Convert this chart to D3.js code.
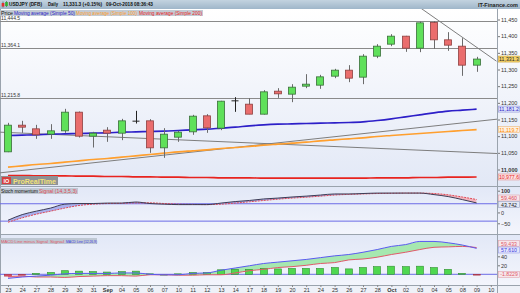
<!DOCTYPE html>
<html>
<head>
<meta charset="utf-8">
<script src="https://cdn.jsdelivr.net/npm/d3@7"></script>
<style>
  body { margin: 0; background: #fff; }
  svg { display: block; font-family: "Liberation Sans", Arial, sans-serif; }
</style>
</head>
<body>
<div id="root"></div>
<script>
// ---- data ----
const dayLabels = ["23","24","27","28","29","30","31","Sep","04","05","06","07","10","11","12","13","14","17",
  "18","19","20","21","24","25","26","27","28","Oct","02","03","04","05","08","09","10"];

const open  = [11053,11133,11122,11106,11116,11172,11100,11118,11109,11146,11146,11065,11097,11113,11161,11124,11206,
  11196,11166,11235,11226,11250,11253,11280,11298,11277,11340,11376,11400,11364,11441,11389,11370,11313];
const high  = [11140,11146,11134,11136,11182,11174,11113,11127,11152,11176,11151,11124,11116,11164,11166,11206,11217,
  11214,11238,11244,11256,11286,11284,11302,11313,11346,11376,11406,11401,11444,11444.5,11412,11394,11338];
const low   = [11052,11110,11092,11092,11110,11096,11066,11083,11088,11138,11050,11035,11083,11104,11110,11118,11173,
  11166,11165,11215,11202,11244,11242,11274,11262,11256,11334,11370,11353,11352,11362,11356,11281,11293];
const close = [11133,11127,11104,11116,11172,11100,11109,11109,11146,11145,11065,11106,11112,11160,11125,11205,11206,
  11166,11233,11227,11247,11256,11278,11298,11274,11340,11370,11400,11364,11440,11389,11373,11313,11331.3];

const ma50  = [11102,11103,11104,11106,11107,11108,11109,11110,11112,11113,11114,11115,11117,11119,11121,11124,11127,
  11131,11134,11136,11137,11138,11139,11140,11141,11143,11147,11152,11158,11164,11170,11175,11178,11181.2];
const ma100 = [11007,11011,11015,11018,11022,11026,11030,11033,11037,11041,11045,11049,11053,11056,11059,11063,11066,
  11069,11073,11076,11079,11082,11086,11089,11092,11095,11099,11102,11105,11108,11111,11114,11117,11119.7];
const ma200 = [10982,10982,10981,10981,10981,10980,10980,10979,10979,10978,10978,10977,10977,10976,10976,10975,10975,
  10975,10974,10974,10974,10974,10974,10974,10974,10974,10975,10975,10975,10976,10976,10977,10977,10977.6];

const levels = [11444.5, 11364.1, 11215.8];
const trendLines = [
  [[28, 11516], [34.4, 11325]],
  [[-0.56, 10990], [34.44, 11151]],
  [[-0.56, 11112], [34.44, 11048]]
];

const smi    = [-36,-10,6,20,38,41,41,43,43,48,41,38,36,36,36,43,50,55,62,66,71,75,80,85,85,87,89,89,89,89,82,73,59,43.742];
const smiSig = [-45,-25,-8,6,20,32,38,41,42,44,44,41,38,37,36,38,43,49,55,61,66,70,75,80,83,85,87,88,89,89,87,81,71,59.46];

const macd    = [-9,-6,-4,-2,1,2,2,2,3,3,0,-1,-1,2,3,9,14,19,24,27,30,33,37,41,44,49,55,62,66,73,73,70,65,57.61];
const macdSig = [-5,-4,-6,-6,-7,-5,-4,-3,-3,-4,-1,-1,-2,-2,-1,-1,3,8,11,15,17,20,24,26,32,34,38,44,49,55,60,61,62,59.433];
const macdHist = [-4,-2,2,4,8,7,6,5,6,7,1,0,1,4,4,10,11,11,13,12,13,13,13,15,12,15,17,18,17,18,15,11,2,-1.8229];

// ---- layout ----
const W = 520, H = 293;
const plotR = 497;
const priceTop = 9, priceBot = 186;
const stochTop = 187, stochBot = 234;
const macdTop = 235, macdBot = 285;

const svg = d3.select("#root").append("svg").attr("width", W).attr("height", H);
const defs = svg.append("defs");

function grad(id, c1, c2) {
  const g = defs.append("linearGradient").attr("id", id).attr("x1", 0).attr("y1", 0).attr("x2", 0).attr("y2", 1);
  g.append("stop").attr("offset", "0%").attr("stop-color", c1);
  g.append("stop").attr("offset", "100%").attr("stop-color", c2);
}
grad("gTitle", "#c3d3e0", "#9fb6c9");
grad("gPrice", "#ffffff", "#e2e8f6");
grad("gInd", "#e2e8f7", "#f3f5fc");

function clip(id, y0, y1) {
  defs.append("clipPath").attr("id", id).append("rect").attr("x", 0).attr("y", y0).attr("width", plotR).attr("height", y1 - y0);
}
clip("cPrice", priceTop, priceBot);
clip("cStoch", stochTop, stochBot);
clip("cMacd", macdTop, macdBot);

const x = d3.scaleLinear().domain([0, 34]).range([8, 490.8]);
const yP = d3.scaleLinear().domain([11000, 11450]).range([169.5, 19.5]);
const yS = d3.scaleLinear().domain([-50, 100]).range([223.3, 190.7]);
const yM = d3.scaleLinear().domain([0, 40]).range([274.3, 256.3]);
const idx = d3.range(close.length);

// backgrounds
svg.append("rect").attr("x", 0).attr("y", priceTop).attr("width", W).attr("height", priceBot - priceTop).attr("fill", "url(#gPrice)");
svg.append("rect").attr("x", 0).attr("y", stochTop).attr("width", W).attr("height", stochBot - stochTop).attr("fill", "url(#gInd)");
svg.append("rect").attr("x", 0).attr("y", macdTop).attr("width", W).attr("height", macdBot - macdTop).attr("fill", "url(#gInd)");
svg.append("rect").attr("x", 0).attr("y", macdBot).attr("width", W).attr("height", H - macdBot).attr("fill", "#eef1f8");
[priceBot, stochBot, macdBot].forEach(y =>
  svg.append("line").attr("x1", 0).attr("x2", W).attr("y1", y + 0.5).attr("y2", y + 0.5).attr("stroke", "#9aa3ad"));
svg.append("line").attr("x1", 0.5).attr("x2", 0.5).attr("y1", priceTop).attr("y2", H).attr("stroke", "#9aa3ad");

// ---- price panel ----
const gp = svg.append("g").attr("clip-path", "url(#cPrice)");

gp.selectAll(".lvl").data(levels).join("line")
  .attr("x1", 0).attr("x2", plotR)
  .attr("y1", d => Math.round(yP(d)) + 0.5).attr("y2", d => Math.round(yP(d)) + 0.5)
  .attr("stroke", "#8a8a8a").attr("stroke-width", 1);
gp.selectAll(".lvlt").data(levels).join("text")
  .attr("x", 1).attr("y", d => yP(d) - 1)
  .attr("font-size", 5).attr("fill", "#333")
  .text(d => d3.format(",.1f")(d));

const tl = d3.line().x(d => x(d[0])).y(d => yP(d[1]));
gp.selectAll(".trend").data(trendLines).join("path")
  .attr("d", tl).attr("fill", "none").attr("stroke", "#7d7d7d").attr("stroke-width", 1);

const maLine = arr => d3.line().x(i => x(i)).y(i => yP(arr[i])).curve(d3.curveMonotoneX)(idx);
gp.append("path").attr("d", maLine(ma200)).attr("fill", "none").attr("stroke", "#e8231e").attr("stroke-width", 1.6);
gp.append("path").attr("d", maLine(ma100)).attr("fill", "none").attr("stroke", "#ff9f2e").attr("stroke-width", 1.6);
gp.append("path").attr("d", maLine(ma50)).attr("fill", "none").attr("stroke", "#2d1fc8").attr("stroke-width", 1.6);

const bw = 8;
const candles = gp.selectAll(".c").data(idx).join("g");
candles.append("line")
  .attr("x1", i => Math.round(x(i)) + 0.5).attr("x2", i => Math.round(x(i)) + 0.5)
  .attr("y1", i => yP(high[i])).attr("y2", i => yP(low[i]))
  .attr("stroke", i => Math.abs(open[i] - close[i]) < 2 ? "#222" : "#6b6b6b");
candles.filter(i => Math.abs(open[i] - close[i]) >= 2).append("rect")
  .attr("x", i => Math.round(x(i)) - bw / 2 + 0.5)
  .attr("y", i => yP(Math.max(open[i], close[i])))
  .attr("width", bw - 1)
  .attr("height", i => Math.abs(yP(open[i]) - yP(close[i])))
  .attr("fill", i => close[i] > open[i] ? "#5fe05a" : "#ea6d6d")
  .attr("stroke", i => close[i] > open[i] ? "#3a6e3a" : "#8e4040")
  .attr("stroke-width", 0.8);
candles.filter(i => Math.abs(open[i] - close[i]) < 2).append("line")
  .attr("x1", i => Math.round(x(i)) - bw / 2 + 0.5).attr("x2", i => Math.round(x(i)) + bw / 2 - 0.5)
  .attr("y1", i => yP(close[i])).attr("y2", i => yP(close[i]))
  .attr("stroke", "#222");

// price axis
const axP = svg.append("g").attr("transform", `translate(${plotR},0)`)
  .call(d3.axisRight(yP).tickValues(d3.range(11000, 11451, 50)).tickSize(3).tickFormat(d3.format(",")));
axP.select(".domain").remove();
axP.selectAll("text").attr("font-size", 5.5).attr("fill", "#333").attr("x", 4)
  .attr("font-weight", d => d === 11000 ? "bold" : "normal");
axP.selectAll("line").attr("stroke", "#777");

// ---- stoch momentum panel ----
const gs = svg.append("g").attr("clip-path", "url(#cStoch)");
[40, -40].forEach(v => gs.append("line").attr("x1", 0).attr("x2", plotR)
  .attr("y1", yS(v)).attr("y2", yS(v)).attr("stroke", "#6c6ce6").attr("stroke-width", 1));

function fillBetween(g, arrA, arrB, yScale, top, bot, upColor, downColor, id) {
  const areaTo = (arr, edge) => d3.area().x(i => x(i)).y0(edge).y1(i => yScale(arr[i]))(idx);
  defs.append("clipPath").attr("id", id + "a").append("path").attr("d", areaTo(arrA, bot));
  defs.append("clipPath").attr("id", id + "b").append("path").attr("d", areaTo(arrA, top));
  g.append("path").attr("d", areaTo(arrB, top)).attr("fill", upColor).attr("clip-path", `url(#${id}a)`);
  g.append("path").attr("d", areaTo(arrB, bot)).attr("fill", downColor).attr("clip-path", `url(#${id}b)`);
}
fillBetween(gs, smi, smiSig, yS, stochTop, stochBot, "#a9b0ee", "#f3b3bd", "fs");
const lS = arr => d3.line().x(i => x(i)).y(i => yS(arr[i])).curve(d3.curveMonotoneX)(idx);
gs.append("path").attr("d", lS(smiSig)).attr("fill", "none").attr("stroke", "#e04a55").attr("stroke-width", 1).attr("stroke-dasharray", "2,1");
gs.append("path").attr("d", lS(smi)).attr("fill", "none").attr("stroke", "#3c3c55").attr("stroke-width", 1);

const axS = svg.append("g").attr("transform", `translate(${plotR},0)`)
  .call(d3.axisRight(yS).tickValues([100, 0, -50]).tickSize(3));
axS.select(".domain").remove();
axS.selectAll("text").attr("font-size", 5.5).attr("fill", "#333").attr("x", 4)
  .attr("font-weight", d => d === 100 ? "bold" : "normal");
axS.selectAll("line").attr("stroke", "#777");

// ---- MACD panel ----
const gm = svg.append("g").attr("clip-path", "url(#cMacd)");
gm.append("line").attr("x1", 0).attr("x2", plotR).attr("y1", yM(0)).attr("y2", yM(0)).attr("stroke", "#6c6ce6");
fillBetween(gm, macd, macdSig, yM, macdTop, macdBot, "#a6e8b0", "#f3b3bd", "fm");
gm.selectAll(".hb").data(idx).join("rect")
  .attr("x", i => Math.round(x(i)) - bw / 2 + 0.5)
  .attr("y", i => Math.min(yM(0), yM(macdHist[i])))
  .attr("width", bw - 1)
  .attr("height", i => Math.max(0.8, Math.abs(yM(macdHist[i]) - yM(0))))
  .attr("fill", i => macdHist[i] >= 0 ? "#4fd84f" : "#e8506a")
  .attr("stroke", i => macdHist[i] >= 0 ? "#2f8f2f" : "#a03040")
  .attr("stroke-width", 0.6);
const lM = arr => d3.line().x(i => x(i)).y(i => yM(arr[i])).curve(d3.curveMonotoneX)(idx);
gm.append("path").attr("d", lM(macdSig)).attr("fill", "none").attr("stroke", "#e05a6a").attr("stroke-width", 1);
gm.append("path").attr("d", lM(macd)).attr("fill", "none").attr("stroke", "#5a5af0").attr("stroke-width", 1);

const axM = svg.append("g").attr("transform", `translate(${plotR},0)`)
  .call(d3.axisRight(yM).tickValues([20, 40]).tickSize(3));
axM.select(".domain").remove();
axM.selectAll("text").attr("font-size", 5.5).attr("fill", "#333").attr("x", 4);
axM.selectAll("line").attr("stroke", "#777");

// ---- x axis ----
const axX = svg.append("g").attr("transform", `translate(0,${macdBot})`)
  .call(d3.axisBottom(x).tickValues(d3.range(0, dayLabels.length)).tickSize(2).tickFormat(i => dayLabels[i]));
axX.select(".domain").remove();
axX.selectAll("text").attr("font-size", 5.5).attr("fill", "#333").attr("y", 3)
  .attr("font-weight", i => (dayLabels[i] === "Sep" || dayLabels[i] === "Oct") ? "bold" : "normal");
axX.selectAll("line").attr("stroke", "#888");

// right axis separator
svg.append("line").attr("x1", plotR + 0.5).attr("x2", plotR + 0.5).attr("y1", priceTop).attr("y2", H).attr("stroke", "#9aa3ad");

// ---- value boxes on the right ----
const boxes = [
  { y: yP(close[33]), t: "11,331.3", fill: "#f5d36a", stroke: "#c9a23a", c: "#222" },
  { y: yP(ma50[33]), t: "11,181.2", fill: "#dfe4fa", stroke: "#8f95d8", c: "#2d1fc8" },
  { y: yP(ma100[33]), t: "11,119.7", fill: "#fdf0df", stroke: "#efb777", c: "#ff8a00" },
  { y: yP(ma200[33]), t: "10,977.6", fill: "#fbe0e0", stroke: "#e89090", c: "#e8231e" },
  { y: 198, t: "59.460", fill: "#f6e6ea", stroke: "#e2a3ad", c: "#e04a55" },
  { y: 204.5, t: "43.742", fill: "#e4e8f5", stroke: "#9aa2c2", c: "#222" },
  { y: 243.5, t: "59.433", fill: "#f6e6ea", stroke: "#e2a3ad", c: "#e05a6a" },
  { y: 250, t: "57.610", fill: "#e4e6fb", stroke: "#9a9fe6", c: "#3a3ae0" },
  { y: yM(0), t: "-1.8229", fill: "#f6e6ea", stroke: "#e2a3ad", c: "#e05a6a" }
];
const bg = svg.selectAll(".vb").data(boxes).join("g");
bg.append("rect").attr("x", plotR + 1.5).attr("y", d => d.y - 3).attr("width", 21).attr("height", 6)
  .attr("fill", d => d.fill).attr("stroke", d => d.stroke).attr("stroke-width", 0.6);
bg.append("text").attr("x", plotR + 12).attr("y", d => d.y + 2).attr("text-anchor", "middle")
  .attr("font-size", 5.2).attr("fill", d => d.c).text(d => d.t);

// ---- title bar ----
svg.append("rect").attr("x", 0).attr("y", 0).attr("width", W).attr("height", priceTop).attr("fill", "url(#gTitle)");
const ic = svg.append("g");
ic.append("line").attr("x1", 3).attr("x2", 3).attr("y1", 1.5).attr("y2", 7.5).attr("stroke", "#444").attr("stroke-width", 0.6);
ic.append("rect").attr("x", 1.7).attr("y", 3).attr("width", 2.6).attr("height", 3.5).attr("fill", "#e03030");
ic.append("line").attr("x1", 6.5).attr("x2", 6.5).attr("y1", 1).attr("y2", 7).attr("stroke", "#444").attr("stroke-width", 0.6);
ic.append("rect").attr("x", 5.2).attr("y", 2).attr("width", 2.6).attr("height", 4).attr("fill", "#30b030");
const titleParts = [
  { t: "USDJPY (DFB)", x: 9, w: 33 },
  { t: "Daily", x: 48, w: 10 },
  { t: "11,331.3 (+0.15%)", x: 63, w: 39 },
  { t: "09-Oct-2018 08:36:43", x: 106, w: 47 }
];
svg.selectAll(".tt").data(titleParts).join("text")
  .attr("x", d => d.x).attr("y", 6.4).attr("font-size", 4.8).attr("font-weight", "bold").attr("fill", "#111")
  .attr("textLength", d => d.w).attr("lengthAdjust", "spacingAndGlyphs").text(d => d.t);
svg.append("text").attr("x", 518).attr("y", 6.6).attr("text-anchor", "end").attr("font-size", 5.5)
  .attr("font-weight", "bold").attr("fill", "#222").text("IT-Finance.com");

// legend rows
function legendRow(y, w, fs, parts) {
  svg.append("rect").attr("x", 0).attr("y", y).attr("width", w).attr("height", 6).attr("fill", "#b9c2cc").attr("opacity", 0.85);
  svg.selectAll(null).data(parts).join("text")
    .attr("x", d => d.x).attr("y", y + 4.8).attr("font-size", fs).attr("fill", d => d.c)
    .attr("textLength", d => d.w).attr("lengthAdjust", "spacingAndGlyphs").text(d => d.t);
}
legendRow(10, 203, 4.6, [
  { t: "Price", x: 1, w: 12, c: "#111" },
  { t: "Moving average (Simple 50)", x: 14, w: 61, c: "#2d1fc8" },
  { t: "Moving average (Simple 100)", x: 76, w: 61, c: "#ff9f2e" },
  { t: "Moving average (Simple 200)", x: 139, w: 63, c: "#e8231e" }
]);
legendRow(188, 78, 4.6, [
  { t: "Stoch momentum", x: 1, w: 37, c: "#111" },
  { t: "Signal (14,3,5,3)", x: 39, w: 38, c: "#e04a55" }
]);
legendRow(238, 97, 4.2, [
  { t: "MACD Line minus Signal", x: 1, w: 47, c: "#e05a6a" },
  { t: "Signal", x: 50, w: 14, c: "#e05a6a" },
  { t: "MACD Line (12,26,9)", x: 66, w: 31, c: "#3a3ae0" }
]);

// ProRealTime badge
const lg = svg.append("g");
lg.append("rect").attr("x", 1).attr("y", 176).attr("width", 57).attr("height", 9).attr("fill", "#8e9296");
lg.append("rect").attr("x", 2).attr("y", 177).attr("width", 9).attr("height", 7).attr("fill", "#d84040");
lg.append("text").attr("x", 6.5).attr("y", 183).attr("text-anchor", "middle").attr("font-size", 5.5)
  .attr("font-weight", "bold").attr("fill", "#fff").text("IO");
lg.append("text").attr("x", 13).attr("y", 183.5).attr("font-size", 7).attr("font-weight", "bold")
  .attr("fill", "#f3e27a").attr("textLength", 43).attr("lengthAdjust", "spacingAndGlyphs").text("ProRealTime");
</script>
</body>
</html>
